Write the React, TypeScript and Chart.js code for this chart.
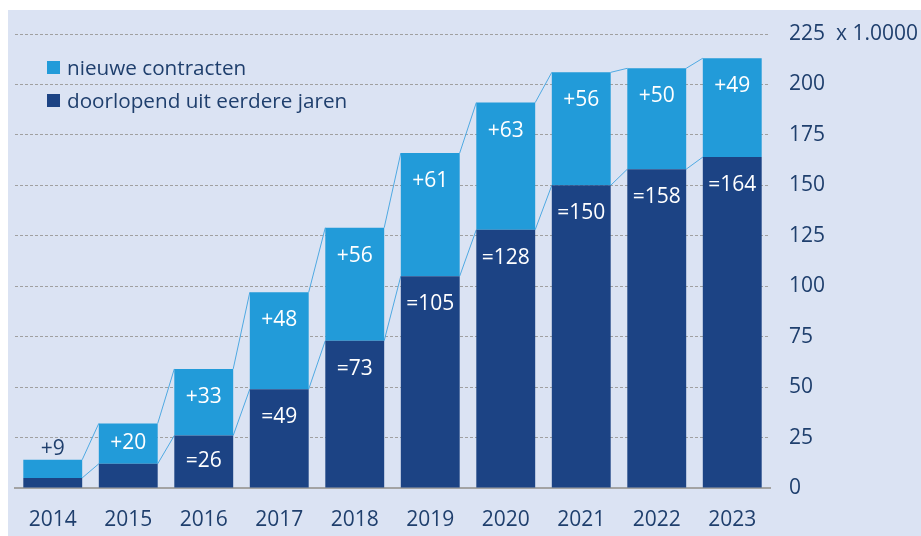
import React, { useEffect, useRef } from "react";
import { Chart, registerables } from "chart.js";

Chart.register(...registerables);

const years = ["2014", "2015", "2016", "2017", "2018", "2019", "2020", "2021", "2022", "2023"];
const continuing = [5, 12, 26, 49, 73, 105, 128, 150, 158, 164];
const newContracts = [9, 20, 33, 48, 56, 61, 63, 56, 50, 49];
const yTicks = [0, 25, 50, 75, 100, 125, 150, 175, 200, 225];
const unitLabel = "x 1.0000";
const legendLabels = ["nieuwe contracten", "doorlopend uit eerdere jaren"];

const LIGHT = "#229bd9";
const DARK = "#1c4384";
const BG = "#dbe3f3";
const TEXT = "#1f3f6d";
const FONT = "'Open Sans', sans-serif";

const seriesLines = {
  id: "seriesLines",
  beforeDatasetsDraw(chart: any) {
    const ctx = chart.ctx;
    ctx.save();
    ctx.strokeStyle = "#4fa9e2";
    ctx.lineWidth = 1;
    chart.data.datasets.forEach((_: any, di: number) => {
      const els = chart.getDatasetMeta(di).data;
      for (let i = 0; i < els.length - 1; i++) {
        const a = els[i], b = els[i + 1];
        ctx.beginPath();
        ctx.moveTo(a.x + a.width / 2, a.y);
        ctx.lineTo(b.x - b.width / 2, b.y);
        ctx.stroke();
      }
    });
    ctx.restore();
  },
};

const valueLabels = {
  id: "valueLabels",
  afterDatasetsDraw(chart: any) {
    const ctx = chart.ctx;
    ctx.save();
    ctx.font = `21px ${FONT}`;
    ctx.textAlign = "center";
    ctx.textBaseline = "middle";
    chart.data.datasets.forEach((ds: any, di: number) => {
      const els = chart.getDatasetMeta(di).data;
      els.forEach((el: any, i: number) => {
        const v = ds.data[i];
        const top = el.y, bottom = el.base;
        const h = bottom - top;
        const text = (ds.prefix || "") + v;
        if (h < 30) {
          if (ds.prefix === "+") {
            ctx.fillStyle = TEXT;
            ctx.fillText(text, el.x, top - 11);
          }
          return;
        }
        ctx.fillStyle = "#ffffff";
        ctx.fillText(text, el.x, Math.min(top + 28, (top + bottom) / 2 - 1));
      });
    });
    ctx.restore();
  },
};

export default function App() {
  const ref = useRef<HTMLCanvasElement>(null);
  useEffect(() => {
    document.body.style.margin = "0";
    const chart = new Chart(ref.current!, {
      type: "bar",
      data: {
        labels: years,
        datasets: [
          { label: legendLabels[1], data: continuing, backgroundColor: DARK, prefix: "=" } as any,
          { label: legendLabels[0], data: newContracts, backgroundColor: LIGHT, prefix: "+" } as any,
        ],
      },
      options: {
        responsive: false,
        animation: false,
        layout: { padding: { left: 15, top: 34, right: 0, bottom: 0 } },
        datasets: { bar: { categoryPercentage: 1, barPercentage: 0.78 } },
        plugins: { legend: { display: false }, tooltip: { enabled: false } },
        scales: {
          x: {
            stacked: true,
            grid: { display: false, drawTicks: false },
            border: { display: true, color: "#a3a3a3", width: 2 },
            ticks: { color: TEXT, font: { family: FONT, size: 21 }, padding: 19 },
            afterFit(s: any) { s.height = 48; },
          },
          y: {
            stacked: true,
            position: "right",
            min: 0,
            max: 225,
            afterBuildTicks(s: any) { s.ticks = yTicks.map((v) => ({ value: v })); },
            grid: { color: "#a0a0a0", lineWidth: 1, drawTicks: false },
            border: { display: false, dash: [3, 2] },
            ticks: {
              color: TEXT,
              font: { family: FONT, size: 21 },
              padding: 19,
              callback: (v: any) => (v === 225 ? `${v}  ${unitLabel}` : `${v}`),
            },
            afterFit(s: any) { s.width = 151; },
          },
        },
      },
      plugins: [seriesLines, valueLabels],
    });
    return () => chart.destroy();
  }, []);

  const legendItem = (label: string, color: string, top: number) => (
    <div style={{ position: "absolute", left: 47, top, display: "flex", alignItems: "center", height: 24 }}>
      <div style={{ width: 13, height: 13, background: color, marginRight: 7 }} />
      <span style={{ fontFamily: FONT, fontSize: 20.7, color: TEXT, lineHeight: "24px", whiteSpace: "nowrap" }}>{label}</span>
    </div>
  );

  return (
    <div style={{ position: "relative", width: 921, height: 536, background: "#ffffff", overflow: "hidden" }}>
      <div style={{ position: "absolute", left: 8, top: 10, right: 0, bottom: 0, background: BG }} />
      <canvas ref={ref} width={921} height={536} style={{ position: "absolute", left: 0, top: 0 }} />
      {legendItem(legendLabels[0], LIGHT, 55)}
      {legendItem(legendLabels[1], DARK, 88)}
    </div>
  );
}
